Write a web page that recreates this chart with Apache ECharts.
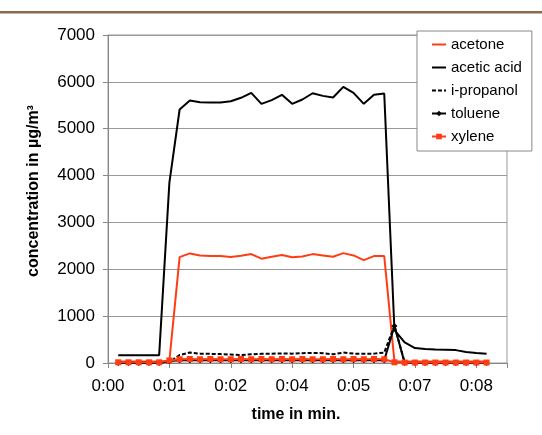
<!DOCTYPE html>
<html>
<head>
<meta charset="utf-8">
<script src="https://cdn.jsdelivr.net/npm/echarts@6/dist/echarts.min.js"></script>
<style>
html,body{margin:0;padding:0;background:#fff;}
#chart{width:542px;height:435px;}
</style>
</head>
<body>
<div id="chart"></div>
<script>
// time of each sample in seconds
var timeSec = [14.4, 28.8, 43.2, 57.6, 72, 86.4, 100.8, 115.2, 129.6, 144, 158.4, 172.8, 187.2, 201.6, 216, 230.4, 244.8, 259.2, 273.6, 288, 302.4, 316.8, 331.2, 345.6, 360, 374.4, 388.8, 403.2, 417.6, 432, 446.4, 460.8, 475.2, 489.6, 504, 518.4, 532.8];
var xTickLabels = ['0:00', '0:01', '0:02', '0:04', '0:05', '0:07', '0:08'];
var seriesNames = ['acetone', 'acetic acid', 'i-propanol', 'toluene', 'xylene'];

var acetone = [30, 30, 30, 30, 30, 50, 2260, 2339, 2296, 2282, 2282, 2260, 2290, 2324, 2226, 2268, 2305, 2255, 2275, 2324, 2296, 2268, 2345, 2296, 2196, 2282, 2282, 30, 30, 30, 30, 30, 30, 30, 30, 30, 30];
var aceticAcid = [165, 165, 165, 165, 168, 3850, 5410, 5600, 5565, 5560, 5560, 5587, 5660, 5765, 5531, 5610, 5723, 5531, 5623, 5757, 5701, 5665, 5893, 5765, 5531, 5723, 5750, 700, 440, 320, 300, 290, 285, 275, 235, 215, 200];
var iPropanol = [15, 15, 15, 15, 15, 20, 170, 222, 200, 195, 190, 180, 170, 185, 195, 200, 205, 200, 210, 215, 210, 186, 222, 200, 195, 200, 222, 800, 10, 5, 5, 5, 5, 5, 5, 5, 5];
var toluene = [0, 0, 0, 0, 0, 40, 60, 60, 60, 60, 60, 60, 60, 60, 60, 60, 60, 60, 60, 60, 60, 60, 60, 60, 60, 60, 60, 790, 0, 0, 0, 0, 0, 0, 0, 0, 0];
var xylene = [15, 15, 15, 15, 15, 55, 80, 85, 80, 85, 80, 80, 85, 80, 85, 80, 85, 80, 85, 80, 80, 85, 80, 85, 80, 85, 80, 15, 10, 10, 10, 10, 10, 10, 10, 10, 10];

function pairs(vals) {
  return timeSec.map(function (t, i) { return [t, vals[i]]; });
}

var RED = '#FF3C14';
var FONT = 'Liberation Sans, Arial, sans-serif';
var TICK = 86.4;
var noMarker = {opacity: 0, borderWidth: 0};

var chart = echarts.init(document.getElementById('chart'), null, {renderer: 'canvas'});
chart.setOption({
  animation: false,
  backgroundColor: '#fff',
  grid: {left: 108, right: 35, top: 35, bottom: 72, show: true, borderColor: '#999', borderWidth: 1, backgroundColor: 'transparent'},
  legend: {
    data: [
      {name: seriesNames[0], itemStyle: noMarker},
      {name: seriesNames[1], itemStyle: noMarker},
      {name: seriesNames[2], itemStyle: noMarker},
      {name: seriesNames[3]},
      {name: seriesNames[4]}
    ],
    orient: 'vertical',
    left: 417, top: 31,
    padding: [6, 10, 7, 14],
    itemGap: 8,
    itemWidth: 14,
    itemHeight: 7,
    itemTextGap: 0,
    backgroundColor: '#fff',
    borderColor: '#888',
    borderWidth: 1,
    textStyle: {fontFamily: FONT, fontSize: 15, color: '#000'}
  },
  xAxis: {
    type: 'value', min: 0, max: 561.6, interval: TICK,
    axisLine: {show: true, lineStyle: {color: '#888', width: 1}},
    axisTick: {show: true, inside: false, length: 5, lineStyle: {color: '#888'}},
    splitLine: {show: false},
    axisLabel: {
      fontFamily: FONT, fontSize: 17, color: '#000', margin: 15,
      formatter: function (v) {
        var idx = Math.round(v / TICK);
        if (Math.abs(v - idx * TICK) > 0.01) return '';
        return xTickLabels[idx] || '';
      }
    }
  },
  yAxis: {
    type: 'value', min: 0, max: 7000, interval: 1000,
    axisLine: {show: true, lineStyle: {color: '#888', width: 1}},
    axisTick: {show: true, inside: false, length: 5, lineStyle: {color: '#888'}},
    splitLine: {show: true, lineStyle: {color: '#999', width: 1}},
    axisLabel: {fontFamily: FONT, fontSize: 17, color: '#000', margin: 13,
      formatter: function (v) { return String(v); }}
  },
  graphic: [
    {type: 'rect', left: 0, top: 11, shape: {width: 542, height: 2.4}, style: {fill: '#8B6A4E'}, z: 100},
    {type: 'text', x: 34, y: 191, rotation: Math.PI / 2,
      style: {text: 'concentration in µg/m³', font: 'bold 16px ' + FONT, fill: '#000', textAlign: 'center', textVerticalAlign: 'middle'}},
    {type: 'text', x: 296, y: 415,
      style: {text: 'time in min.', font: 'bold 16px ' + FONT, fill: '#000', textAlign: 'center', textVerticalAlign: 'middle'}}
  ],
  series: [
    {name: seriesNames[0], type: 'line', data: pairs(acetone), symbol: 'none', color: RED,
      lineStyle: {color: RED, width: 2}},
    {name: seriesNames[1], type: 'line', data: pairs(aceticAcid), symbol: 'none', color: '#000',
      lineStyle: {color: '#000', width: 2}},
    {name: seriesNames[2], type: 'line', data: pairs(iPropanol), symbol: 'none', color: '#000',
      lineStyle: {color: '#000', width: 2, type: [4, 2]}},
    {name: seriesNames[3], type: 'line', data: pairs(toluene), symbol: 'diamond', symbolSize: 6, color: '#000',
      itemStyle: {color: '#000'}, lineStyle: {color: '#000', width: 2}},
    {name: seriesNames[4], type: 'line', data: pairs(xylene), symbol: 'rect', symbolSize: 6, color: RED,
      itemStyle: {color: RED}, lineStyle: {color: RED, width: 2}}
  ]
});
</script>
</body>
</html>
